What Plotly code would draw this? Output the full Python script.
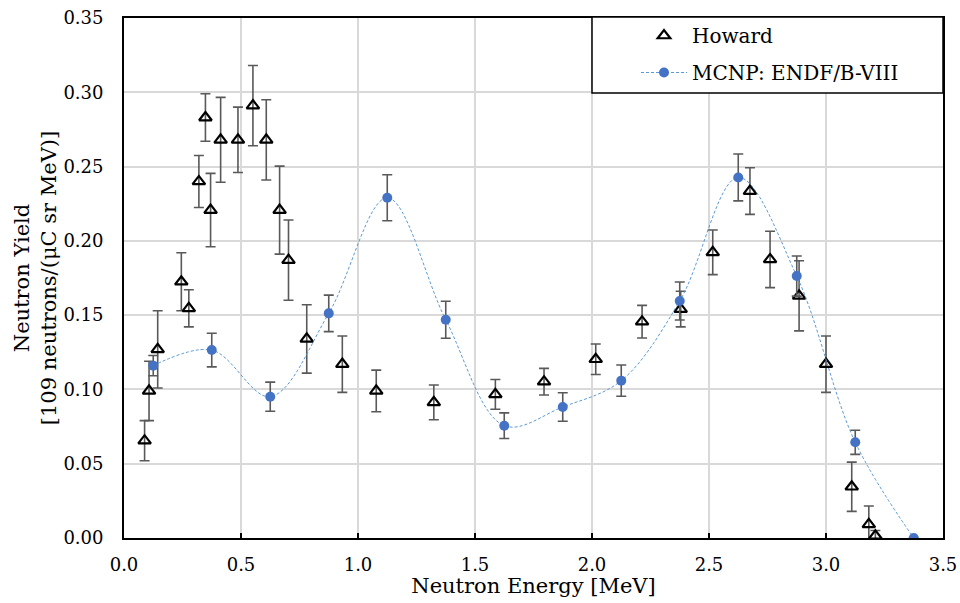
import plotly.graph_objects as go

# Howard measured data
howard_x = [0.088, 0.107, 0.144, 0.245, 0.277, 0.320, 0.348, 0.370, 0.413, 0.487, 0.551,
            0.608, 0.665, 0.703, 0.781, 0.933, 1.078, 1.324, 1.587, 1.795, 2.016, 2.214,
            2.379, 2.516, 2.675, 2.761, 2.885, 3.000, 3.110, 3.183, 3.211]
howard_y = [0.0655, 0.099, 0.127, 0.1725, 0.1546, 0.240, 0.283, 0.2207, 0.268, 0.268, 0.291,
            0.268, 0.2207, 0.187, 0.134, 0.117, 0.099, 0.0913, 0.0967, 0.1052, 0.1203, 0.1456,
            0.1541, 0.1923, 0.2335, 0.1875, 0.163, 0.117, 0.0345, 0.0092, 0.0015]
howard_err = [0.0135, 0.020, 0.026, 0.0195, 0.0125, 0.0175, 0.016, 0.0247, 0.0286, 0.022, 0.027,
              0.027, 0.0296, 0.027, 0.023, 0.019, 0.014, 0.0117, 0.010, 0.009, 0.0103, 0.011,
              0.012, 0.015, 0.0157, 0.019, 0.0236, 0.019, 0.0166, 0.0123, 0.0035]

# MCNP: ENDF/B-VIII simulation
mcnp_x = [0.125, 0.375, 0.625, 0.875, 1.125, 1.375, 1.625, 1.875, 2.125, 2.375, 2.625,
          2.875, 3.125, 3.375]
mcnp_y = [0.116, 0.1265, 0.0951, 0.1512, 0.229, 0.1469, 0.0756, 0.0882, 0.1059, 0.1595,
          0.2427, 0.1763, 0.0644, 0.0]
mcnp_err = [0.0068, 0.0113, 0.0098, 0.0123, 0.0155, 0.0125, 0.0086, 0.0096, 0.0105, 0.0128,
            0.0158, 0.0135, 0.0081, 0.0]

x_ticks = [0.0, 0.5, 1.0, 1.5, 2.0, 2.5, 3.0, 3.5]
y_ticks = [0.00, 0.05, 0.10, 0.15, 0.20, 0.25, 0.30, 0.35]

FONT = "DejaVu Serif"
ERR_COLOR = "#595959"

fig = go.Figure()

fig.add_trace(go.Scatter(
    x=howard_x, y=howard_y, mode="markers", name="Howard",
    legendgroup="a",
    marker=dict(symbol="triangle-up-open", size=11, color="black",
                line=dict(width=2.2, color="black")),
    error_y=dict(type="data", array=howard_err, visible=True,
                 color=ERR_COLOR, thickness=1.6, width=5),
))

fig.add_trace(go.Scatter(
    x=mcnp_x, y=mcnp_y, mode="lines+markers", name="MCNP: ENDF/B-VIII",
    legendgroup="b",
    line=dict(shape="spline", smoothing=1.0, color="#5B9BD5", width=1, dash="3px,2px"),
    marker=dict(symbol="circle", size=10, color="#4472C4"),
    error_y=dict(type="data", array=mcnp_err, visible=True,
                 color=ERR_COLOR, thickness=1.6, width=5),
))

fig.update_layout(
    width=960, height=603,
    margin=dict(l=124, r=17, t=18, b=65, autoexpand=False),
    paper_bgcolor="white", plot_bgcolor="white",
    font=dict(family=FONT, color="black", size=18),
    showlegend=True,
    legend=dict(
        x=(636 - 124) / 819, y=1 - (16 - 18) / 520, xanchor="left", yanchor="top",
        bgcolor="rgba(0,0,0,0)", borderwidth=0, itemwidth=46,
        font=dict(family=FONT, size=20, color="black"),
        traceorder="grouped", tracegroupgap=8,
    ),
    shapes=[dict(type="rect", xref="paper", yref="paper",
                 x0=(592 - 124) / 819, x1=1.0,
                 y0=1 - (93 - 18) / 520, y1=1.0 + 1 / 520,
                 fillcolor="white", line=dict(color="black", width=1.5), layer="above")],
)

fig.update_xaxes(
    range=[0, 3.5], tickvals=x_ticks, tickformat=".1f",
    showgrid=True, gridcolor="#D9D9D9", gridwidth=1.5,
    showline=True, linecolor="black", linewidth=1.8, mirror=True,
    ticks="inside", ticklen=5, tickcolor="black", tickwidth=1.5,
    ticklabelstandoff=9,
    tickfont=dict(family=FONT, size=18),
    zeroline=False,
    title=dict(text="Neutron Energy [MeV]", font=dict(family=FONT, size=21), standoff=2),
)
fig.update_yaxes(
    range=[0, 0.35], tickvals=y_ticks, tickformat=".2f",
    showgrid=True, gridcolor="#D9D9D9", gridwidth=1.5,
    showline=True, linecolor="black", linewidth=1.8, mirror=True,
    ticks="", ticklabelstandoff=15,
    tickfont=dict(family=FONT, size=18),
    zeroline=False,
    title=dict(text="Neutron Yield<br>[109 neutrons/(μC sr MeV)]",
               font=dict(family=FONT, size=21), standoff=1),
)

fig.write_html("out.html", config={"displayModeBar": False},
               post_script="document.body.style.margin='0';")
